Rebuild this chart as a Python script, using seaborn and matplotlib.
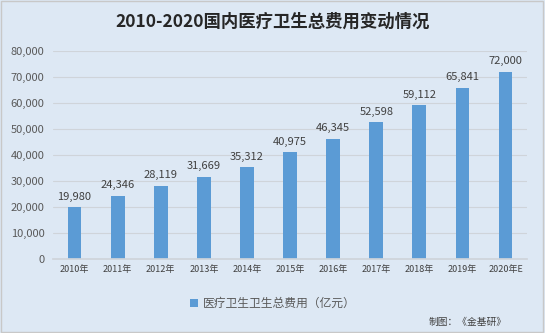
import matplotlib
matplotlib.use("Agg")
import matplotlib.pyplot as plt
import seaborn as sns
import pandas as pd
from matplotlib.patches import Rectangle

categories = ["2010年", "2011年", "2012年", "2013年", "2014年", "2015年",
              "2016年", "2017年", "2018年", "2019年", "2020年E"]
values = [19980, 24346, 28119, 31669, 35312, 40975, 46345, 52598, 59112, 65841, 72000]
yticks = [0, 10000, 20000, 30000, 40000, 50000, 60000, 70000, 80000]
title = "2010-2020国内医疗卫生总费用变动情况"
legend_label = "医疗卫生卫生总费用（亿元）"
source = "制图：《金基研》"

sns.set_theme(style="white")
plt.rcParams['font.family'] = ['Noto Sans CJK SC', 'DejaVu Sans']

bg = "#dde8f4"
bar_color = "#5b9bd5"
txt = "#404040"

fig = plt.figure(figsize=(5.45, 3.33), dpi=100)
fig.patch.set_facecolor(bg)
ax = fig.add_axes([0.0972, 0.2222, 0.8700, 0.6246])
ax.set_facecolor(bg)

df = pd.DataFrame({"year": categories, "value": values})
sns.barplot(data=df, x="year", y="value", color=bar_color, width=0.32,
            saturation=1, ax=ax, label=legend_label, linewidth=0, edgecolor="none")
handles, labels = ax.get_legend_handles_labels()
if ax.get_legend() is not None:
    ax.get_legend().remove()

ax.set_ylim(0, 80000)
ax.set_yticks(yticks)
ax.set_yticklabels([f"{v:,}" for v in yticks], fontsize=8, color="#595959")
ax.set_xticks(range(len(categories)))
ax.set_xticklabels(categories, fontsize=6.5, color="#404040")
ax.tick_params(axis="both", length=0, pad=6)
ax.tick_params(axis="x", pad=4)
ax.set_xlabel("")
ax.set_ylabel("")
ax.grid(axis="y", color="#cfd4da", linewidth=0.8)
ax.set_axisbelow(True)
for s in ["left", "right", "top"]:
    ax.spines[s].set_visible(False)
ax.spines["bottom"].set_color("#cfd4da")
ax.set_xlim(-0.5, len(categories) - 0.5)

for i, v in enumerate(values):
    ax.annotate(f"{v:,}", (i, v), xytext=(0, 4), textcoords="offset points",
                ha="center", va="bottom", fontsize=8, color=txt)

fig.text(0.5, 0.935, title, ha="center", va="center", fontsize=12.5,
         fontweight="bold", color="#262626")

fig.legend(handles, labels, loc="center", bbox_to_anchor=(0.5, 0.088), frameon=False,
           fontsize=8.5, handlelength=0.7, handleheight=0.7, handletextpad=0.4,
           labelcolor="#595959")

fig.text(0.93, 0.032, source, ha="right", va="center", fontsize=7, color="#404040")

fig.patches.append(Rectangle((0.002, 0.003), 0.995, 0.994, transform=fig.transFigure,
                             fill=False, edgecolor="#c8c8c8", linewidth=1))

fig.savefig("out.png", dpi=100, facecolor=bg)
